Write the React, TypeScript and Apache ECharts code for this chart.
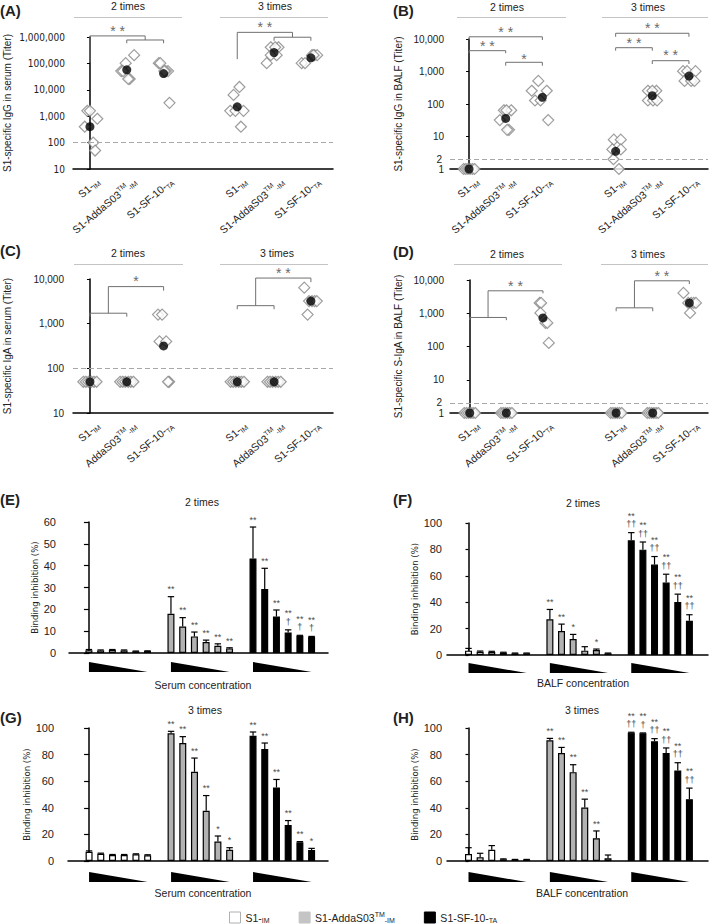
import React, { useEffect, useRef } from "react";
import * as echarts from "echarts";

const FONT = "'Liberation Sans', Arial, Helvetica, sans-serif";
const NARROW = "'Liberation Sans Narrow', 'Arial Narrow', 'DejaVu Sans Condensed', 'Liberation Sans', sans-serif";
const INK = "#222";
const GREY_LINE = "#707070";

// ---------------- Panels A–D : titers (log scale) ----------------
const GROUPS = ["S1-IM", "S1-AddaS03TM-IM", "S1-SF-10-TA"];
const SLOTS_AD = [0, 1, 2, 4, 5, 6]; // 2 times: 0,1,2  | 3 times: 4,5,6
const LABELS_AB = ["{n|S1-}{s|IM}", "{n|S1-AddaS03}{u|TM}{s|-IM}", "{n|S1-SF-10-}{s|TA}"];
const LABELS_CD = ["{n|S1-}{s|IM}", "{n|AddaS03}{u|TM}{s|-IM}", "{n|S1-SF-10-}{s|TA}"];

// (A) serum IgG
const A_VALUES = [
  [1600, 1600, 800, 400, 100, 50],
  [204800, 102400, 51200, 51200, 25600, 25600],
  [102400, 102400, 51200, 51200, 51200, 3200],
  [12800, 6400, 1600, 1600, 1600, 400],
  [409600, 409600, 409600, 204800, 204800, 102400],
  [204800, 204800, 204800, 204800, 102400, 102400],
];
const A_JITTER = [
  [-0.07, 0, 0.2, -0.14, 0.09, 0.14],
  [0.2, -0.03, -0.15, -0.1, 0.08, 0.04],
  [-0.13, -0.09, 0.12, 0.06, 0.02, 0.16],
  [0.06, -0.1, -0.19, -0.05, 0.17, 0.1],
  [-0.09, 0.12, 0.03, 0.07, -0.09, -0.2],
  [0.03, 0.1, 0.17, 0.07, -0.25, -0.16],
];
const A_MEANS = [400, 57000, 41000, 2260, 258000, 162000];

// (B) BALF IgG
const B_VALUES = [
  [1, 1, 1, 1, 1, 1],
  [64, 64, 64, 32, 16, 16],
  [512, 256, 256, 128, 128, 32],
  [8, 8, 4, 4, 2, 1],
  [256, 256, 256, 128, 128, 128],
  [1024, 1024, 1024, 512, 512, 512],
];
const B_JITTER = [
  [-0.15, -0.09, -0.03, 0.03, 0.09, 0.15],
  [-0.05, 0.15, 0.02, -0.16, 0.09, 0.04],
  [-0.11, -0.29, 0.12, -0.2, -0.05, 0.16],
  [-0.05, 0.14, -0.09, 0.14, -0.06, 0.09],
  [-0.12, 0.11, 0, -0.12, 0.02, 0.13],
  [-0.16, -0.05, 0.18, -0.12, 0.06, 0.15],
];
const B_MEANS = [1, 36, 160, 3.5, 181, 724];

// (C) serum IgA
const C_VALUES = [
  [50, 50, 50, 50, 50, 50],
  [50, 50, 50, 50, 50, 50],
  [1600, 1600, 400, 400, 50, 50],
  [50, 50, 50, 50, 50, 50],
  [50, 50, 50, 50, 50, 50],
  [6400, 3200, 3200, 3200, 3200, 1600],
];
const C_JITTER = [
  [-0.18, -0.11, -0.04, 0.04, 0.11, 0.18],
  [-0.18, -0.11, -0.04, 0.04, 0.11, 0.18],
  [-0.15, -0.04, -0.11, 0.07, 0.15, 0.12],
  [-0.18, -0.11, -0.04, 0.04, 0.11, 0.18],
  [-0.18, -0.11, -0.04, 0.04, 0.11, 0.18],
  [-0.18, -0.05, 0.03, 0.1, 0.16, -0.09],
];
const C_MEANS = [50, 50, 317, 50, 50, 3200];

// (D) BALF S-IgA
const D_VALUES = [
  [1, 1, 1, 1, 1, 1],
  [1, 1, 1, 1, 1, 1],
  [2048, 2048, 1024, 512, 512, 128],
  [1, 1, 1, 1, 1, 1],
  [1, 1, 1, 1, 1, 1],
  [4096, 2048, 2048, 2048, 2048, 1024],
];
const D_JITTER = [
  [-0.15, -0.09, -0.03, 0.03, 0.09, 0.15],
  [-0.15, -0.09, -0.03, 0.03, 0.09, 0.15],
  [-0.09, -0.05, -0.07, 0.07, 0.12, 0.16],
  [-0.15, -0.09, -0.03, 0.03, 0.09, 0.15],
  [-0.15, -0.09, -0.03, 0.03, 0.09, 0.15],
  [-0.16, -0.03, 0.05, 0.12, 0.18, 0.02],
];
const D_MEANS = [1, 1, 724, 1, 1, 2048];

// significance brackets: [x1, x2, y, left leg end, right leg end, label, label y]
const A_BRACKETS = [
  [0, 1.5, 1.1e6, 1.07e5, 7.7e5, "* *", 1.95e6],
  [1, 2, 7.7e5, 5.8e5, 5.8e5, "", 0],
  [4, 5.5, 1.5e6, 1.45e5, 9.8e5, "* *", 2.8e6],
  [5, 6, 9.8e5, 7.2e5, 7.2e5, "", 0],
];
const B_BRACKETS = [
  [0, 2, 1.17e4, 9300, 9300, "* *", 1.9e4],
  [0, 1, 4370, 3640, 3640, "* *", 6900],
  [1, 2, 1920, 1510, 1510, "*", 2750],
  [4, 6, 1.5e4, 1.17e4, 1.17e4, "* *", 2.5e4],
  [4, 5, 5400, 4370, 4370, "* *", 8900],
  [5, 6, 2150, 1700, 1700, "* *", 3640],
];
const C_BRACKETS = [
  [0, 1, 1714, 1435, 1435, "", 0],
  [0.5, 2, 6760, 1714, 5500, "*", 10000],
  [4, 5, 2530, 2100, 2100, "", 0],
  [4.5, 6, 1.05e4, 2530, 8500, "* *", 1.48e4],
];
const D_BRACKETS = [
  [0, 1, 747, 620, 620, "", 0],
  [0.5, 2, 4730, 747, 3980, "* *", 7500],
  [4, 5, 1455, 1150, 1150, "", 0],
  [4.5, 6, 9460, 1455, 7530, "* *", 1.47e4],
];

// ---------------- Panels E–H : binding inhibition (%) ----------------
const SLOTS_IM = [0, 1, 2, 3, 4, 5];
const SLOTS_ADDA = [7, 8, 9, 10, 11, 12];
const SLOTS_SF = [14, 15, 16, 17, 18, 19];

const E_IM = [1.3, 1.2, 1.4, 1.2, 0.8, 0.9];
const E_IM_SD = [0.3, 0.2, 0.2, 0.2, 0.1, 0.1];
const E_ADDA = [18, 12.1, 7.6, 5.0, 3.3, 2.1];
const E_ADDA_SD = [7.8, 4.1, 2.0, 0.9, 0.9, 0.3];
const E_SF = [43.3, 29.3, 16.7, 9.4, 7.9, 7.4];
const E_SF_SD = [14.4, 9.5, 3.0, 1.2, 0.2, 0.2];
const E_ADDA_SIG = ["**", "**", "**", "**", "**", "**"];
const E_SF_SIG = ["**", "**", "**", "**", "**", "**"];
const E_SF_DAG = ["", "", "", "†", "†", "†"];

const F_IM = [3.3, 2.5, 2.3, 1.8, 1.3, 1.3];
const F_IM_SD = [1.7, 0.5, 0.5, 0.3, 0.2, 0.2];
const F_ADDA = [27, 18.1, 12.1, 3.3, 3.8, 1.3];
const F_ADDA_SD = [7.5, 5.3, 3.5, 3.0, 0.7, 0.2];
const F_SF = [86.9, 79.8, 68.5, 54.9, 40.1, 25.9];
const F_SF_SD = [5.8, 5.8, 6.1, 6.3, 6.0, 4.6];
const F_ADDA_SIG = ["**", "**", "*", "", "*", ""];
const F_SF_SIG = ["**", "**", "**", "**", "**", "**"];
const F_SF_DAG = ["††", "††", "††", "††", "††", "††"];

const G_IM = [7.0, 5.5, 4.5, 4.5, 5.0, 4.3];
const G_IM_SD = [0.6, 0.4, 0.4, 0.4, 0.4, 0.4];
const G_ADDA = [96, 88.7, 67.1, 37.7, 14.6, 8.5];
const G_ADDA_SD = [1.5, 4.8, 10.3, 11.5, 4.2, 1.5];
const G_SF = [94.2, 84.2, 55.3, 27.1, 14.1, 8.3];
const G_SF_SD = [2.8, 4.5, 6.0, 3.3, 0.5, 1.2];
const G_ADDA_SIG = ["**", "**", "**", "**", "*", "*"];
const G_SF_SIG = ["**", "**", "**", "**", "**", "*"];
const G_SF_DAG = ["", "", "", "", "", ""];

const H_IM = [5.3, 2.8, 8.5, 1.3, 1.0, 1.0];
const H_IM_SD = [4.7, 3.0, 3.1, 0.3, 0.2, 0.2];
const H_ADDA = [90.7, 81.2, 66.8, 40.2, 17.1, 2.0];
const H_ADDA_SD = [1.5, 4.2, 5.6, 6.3, 5.5, 2.5];
const H_SF = [96.5, 96, 90, 81.2, 68.1, 46.5];
const H_SF_SD = [0.3, 0.3, 2.0, 3.8, 5.8, 8.3];
const H_ADDA_SIG = ["**", "**", "**", "**", "**", ""];
const H_SF_SIG = ["**", "**", "**", "**", "**", "**"];
const H_SF_DAG = ["††", "†", "††", "††", "††", "††"];

const NONE = ["", "", "", "", "", ""];

// ---------------- helpers ----------------
const LABEL_RICH = {
  n: { fontSize: 10.5, fontFamily: FONT, fill: INK, lineHeight: 13, verticalAlign: "middle" },
  s: { fontSize: 7, fontFamily: FONT, fill: INK, verticalAlign: "bottom" },
  u: { fontSize: 7, fontFamily: FONT, fill: INK, verticalAlign: "top" },
};

function titerSeries(g: number, values: number[][], jitter: number[][], means: number[],
  brackets: any[][], labels: string[], yBase: number, cutoff: number, cutoffLabel: string) {
  const pts: number[][] = [];
  values.forEach((grp, gi) => grp.forEach((v, k) => pts.push([SLOTS_AD[gi] + jitter[gi][k], v])));
  return [
    {
      type: "scatter", xAxisIndex: g, yAxisIndex: g, silent: true,
      symbol: "diamond", symbolSize: [11, 11], data: pts,
      itemStyle: { color: "#fff", borderColor: "#858585", borderWidth: 1.2 },
      markLine: {
        silent: true, symbol: ["none", "none"], animation: false,
        data: [{ yAxis: cutoff }],
        lineStyle: { type: [5, 3], color: "#a8a8a8", width: 1 },
        label: cutoffLabel
          ? { show: true, position: "start", formatter: cutoffLabel, color: INK, fontSize: 10, fontFamily: FONT, distance: 8 }
          : { show: false },
      },
    },
    {
      type: "scatter", xAxisIndex: g, yAxisIndex: g, silent: true, z: 4,
      symbol: "circle", symbolSize: 9,
      data: means.map((m, gi) => [SLOTS_AD[gi], m]),
      itemStyle: { color: "#000" },
    },
    {
      type: "custom", xAxisIndex: g, yAxisIndex: g, silent: true,
      encode: { x: [0, 1], y: [2, 3, 4] },
      data: brackets.map((b) => [b[0], b[1], b[2], b[3], b[4]]),
      renderItem: (params: any, api: any) => {
        const b = brackets[params.dataIndex];
        const pts2 = [api.coord([b[0], b[3]]), api.coord([b[0], b[2]]), api.coord([b[1], b[2]]), api.coord([b[1], b[4]])];
        const children: any[] = [
          { type: "polyline", shape: { points: pts2 }, style: { stroke: GREY_LINE, lineWidth: 1, fill: null } },
        ];
        if (b[5]) {
          const p = api.coord([(b[0] + b[1]) / 2, b[6]]);
          children.push({
            type: "text", x: p[0], y: p[1] + 2,
            style: { text: b[5], fontSize: 14, fontFamily: FONT, fill: "#6a6a6a", align: "center", verticalAlign: "middle" },
          });
        }
        return { type: "group", children };
      },
    },
    {
      type: "custom", xAxisIndex: g, yAxisIndex: g, silent: true,
      encode: { x: 0, y: 1 },
      data: SLOTS_AD.map((s) => [s, yBase]),
      renderItem: (params: any, api: any) => {
        const p = api.coord([api.value(0), api.value(1)]);
        return {
          type: "text", x: p[0] + 8, y: p[1] + 11, rotation: (40 * Math.PI) / 180,
          style: {
            text: labels[params.dataIndex % 3], align: "right", verticalAlign: "middle",
            fontSize: 10.5, fontFamily: FONT, fill: INK, rich: LABEL_RICH,
          },
        };
      },
    },
  ];
}

const BAR_FILLS = ["#ffffff", "#b2b2b2", "#000000"];

function barSeries(g: number, groups: { slots: number[]; vals: number[]; sds: number[]; sig: string[]; dag: string[] }[], triDrop: number[]) {
  const out: any[] = [];
  groups.forEach((grp, k) => {
    out.push({
      type: "bar", name: GROUPS[k], xAxisIndex: g, yAxisIndex: g, silent: true,
      barWidth: 7, barGap: "-100%",
      data: grp.vals.map((v, i) => [grp.slots[i], v]),
      itemStyle: { color: BAR_FILLS[k], borderColor: "#000", borderWidth: 1.2 },
    });
  });
  groups.forEach((grp) => {
    out.push({
      type: "custom", xAxisIndex: g, yAxisIndex: g, silent: true, z: 5,
      encode: { x: 0, y: [1, 2] },
      data: grp.vals.map((v, i) => [grp.slots[i], v, v + grp.sds[i]]),
      renderItem: (params: any, api: any) => {
        const i = params.dataIndex;
        const base = api.coord([api.value(0), api.value(1)]);
        const top = api.coord([api.value(0), api.value(2)]);
        const children: any[] = [
          { type: "line", shape: { x1: top[0], y1: base[1], x2: top[0], y2: top[1] }, style: { stroke: "#000", lineWidth: 1.2 } },
          { type: "line", shape: { x1: top[0] - 3.2, y1: top[1], x2: top[0] + 3.2, y2: top[1] }, style: { stroke: "#000", lineWidth: 1.2 } },
        ];
        const hasDag = !!grp.dag[i];
        if (grp.sig[i]) {
          children.push({
            type: "text", x: top[0], y: top[1] - (hasDag ? 4 : 3),
            style: {
              text: hasDag ? grp.sig[i] + "\n" + grp.dag[i] : grp.sig[i],
              fontSize: 9, lineHeight: 8.5, fontFamily: FONT, fill: "#4a4a4a",
              align: "center", verticalAlign: "bottom",
            },
          });
        }
        return { type: "group", children };
      },
    });
  });
  out.push({
    type: "custom", xAxisIndex: g, yAxisIndex: g, silent: true,
    encode: { x: [0, 1], y: 2 },
    data: groups.map((grp) => [grp.slots[0], grp.slots[grp.slots.length - 1], 0]),
    renderItem: (params: any, api: any) => {
      const a = api.coord([api.value(0), 0]);
      const b = api.coord([api.value(1), 0]);
      return {
        type: "polygon",
        shape: { points: [[a[0], a[1] + triDrop[0]], [a[0], a[1] + triDrop[1]], [b[0], b[1] + triDrop[1]]] },
        style: { fill: "#000" },
      };
    },
  });
  return out;
}

const fmtComma = (v: number) => Math.round(v).toLocaleString("en-US");

function build() {
  const grids = [
    { left: 73, top: 37, width: 260, height: 132 },
    { left: 450, top: 39, width: 258, height: 130 },
    { left: 73, top: 279, width: 260, height: 134 },
    { left: 450, top: 280, width: 258, height: 133 },
    { left: 69, top: 522, width: 259, height: 131 },
    { left: 447, top: 523, width: 261, height: 132 },
    { left: 68, top: 728, width: 260, height: 133 },
    { left: 447, top: 728, width: 261, height: 133 },
  ].map((g) => ({ ...g, outerBoundsMode: "none", containLabel: false }));

  const xRanges = [[-0.46, 6.6], [-0.52, 6.52], [-0.46, 6.6], [-0.54, 6.51], [-1.7, 20.4], [-1.85, 20.6], [-1.8, 20.4], [-1.85, 20.6]];
  const axisLine = { show: true, onZero: false, lineStyle: { color: "#000", width: 1.5 } };
  const xAxis = xRanges.map((r, i) => ({
    gridIndex: i, type: "value", min: r[0], max: r[1],
    axisLine, axisTick: { show: false }, axisLabel: { show: false }, splitLine: { show: false },
  }));

  const nameStyle = (fs: number, fam: string) => ({ fontSize: fs, fontFamily: fam, color: INK });
  const logY = (i: number, min: number, max: number, name: string, gap: number, margin: number, fam: string) => ({
    gridIndex: i, type: "log", logBase: 10, min, max,
    axisLine: { show: true, lineStyle: { color: "#000", width: 1.5 } },
    axisTick: { show: true, length: 3, lineStyle: { color: "#000" } },
    axisLabel: { margin, fontSize: 10, fontFamily: fam, color: INK, formatter: fmtComma },
    splitLine: { show: false },
    name, nameLocation: "middle", nameGap: gap, nameRotate: 90, nameTextStyle: nameStyle(10, FONT),
  });
  const linY = (i: number, max: number, interval: number, gap: number, margin: number, tick: number) => ({
    gridIndex: i, type: "value", min: 0, max, interval,
    axisLine: { show: true, lineStyle: { color: "#000", width: 1.5 } },
    axisTick: { show: true, length: tick, lineStyle: { color: "#000", width: 1.2 } },
    axisLabel: { margin, fontSize: 11, fontFamily: FONT, color: INK },
    splitLine: { show: false },
    name: "Binding inhibition (%)", nameLocation: "middle", nameGap: gap, nameRotate: 90,
    nameTextStyle: nameStyle(9.5, NARROW),
  });
  const yAxis = [
    logY(0, 10, 1e6, "S1-specific IgG in serum (Titer)", 61, 8, NARROW),
    logY(1, 1, 1e4, "S1-specific IgG in BALF (Titer)", 47, 6, FONT),
    logY(2, 10, 1e4, "S1-specific IgA in serum (Titer)", 61, 9, FONT),
    logY(3, 1, 1e4, "S1-specific S-IgA in BALF (Titer)", 47, 6, FONT),
    linY(4, 60, 10, 27, 13, 5),
    linY(5, 100, 20, 27, 5, 3),
    linY(6, 100, 20, 25, 14, 5),
    linY(7, 100, 20, 27, 5, 3),
  ];

  const series: any[] = [
    ...titerSeries(0, A_VALUES, A_JITTER, A_MEANS, A_BRACKETS, LABELS_AB, 10, 100, ""),
    ...titerSeries(1, B_VALUES, B_JITTER, B_MEANS, B_BRACKETS, LABELS_AB, 1, 2, "2"),
    ...titerSeries(2, C_VALUES, C_JITTER, C_MEANS, C_BRACKETS, LABELS_CD, 10, 100, ""),
    ...titerSeries(3, D_VALUES, D_JITTER, D_MEANS, D_BRACKETS, LABELS_CD, 1, 2, "2"),
    ...barSeries(4, [
      { slots: SLOTS_IM, vals: E_IM, sds: E_IM_SD, sig: NONE, dag: NONE },
      { slots: SLOTS_ADDA, vals: E_ADDA, sds: E_ADDA_SD, sig: E_ADDA_SIG, dag: NONE },
      { slots: SLOTS_SF, vals: E_SF, sds: E_SF_SD, sig: E_SF_SIG, dag: E_SF_DAG },
    ], [9, 19]),
    ...barSeries(5, [
      { slots: SLOTS_IM, vals: F_IM, sds: F_IM_SD, sig: NONE, dag: NONE },
      { slots: SLOTS_ADDA, vals: F_ADDA, sds: F_ADDA_SD, sig: F_ADDA_SIG, dag: NONE },
      { slots: SLOTS_SF, vals: F_SF, sds: F_SF_SD, sig: F_SF_SIG, dag: F_SF_DAG },
    ], [8, 18]),
    ...barSeries(6, [
      { slots: SLOTS_IM, vals: G_IM, sds: G_IM_SD, sig: NONE, dag: NONE },
      { slots: SLOTS_ADDA, vals: G_ADDA, sds: G_ADDA_SD, sig: G_ADDA_SIG, dag: NONE },
      { slots: SLOTS_SF, vals: G_SF, sds: G_SF_SD, sig: G_SF_SIG, dag: G_SF_DAG },
    ], [11, 21]),
    ...barSeries(7, [
      { slots: SLOTS_IM, vals: H_IM, sds: H_IM_SD, sig: NONE, dag: NONE },
      { slots: SLOTS_ADDA, vals: H_ADDA, sds: H_ADDA_SD, sig: H_ADDA_SIG, dag: NONE },
      { slots: SLOTS_SF, vals: H_SF, sds: H_SF_SD, sig: H_SF_SIG, dag: H_SF_DAG },
    ], [11, 21]),
  ];

  const txt = (text: string, x: number, y: number, size = 10.5, weight = "normal", align = "center") => ({
    type: "text", x, y, silent: true,
    style: { text, fontSize: size, fontWeight: weight, fontFamily: FONT, fill: INK, align, verticalAlign: "middle", textAlign: align, textVerticalAlign: "middle" },
  });
  const hline = (x1: number, x2: number, y: number) => ({
    type: "line", silent: true, shape: { x1, y1: y, x2, y2: y }, style: { stroke: "#c4c4c4", lineWidth: 1 },
  });

  const graphic = [
    txt("(A)", 0, 10, 15, "bold", "left"),
    txt("(B)", 393, 10, 15, "bold", "left"),
    txt("(C)", 0, 250, 15, "bold", "left"),
    txt("(D)", 393, 251, 15, "bold", "left"),
    txt("(E)", 0, 499, 15, "bold", "left"),
    txt("(F)", 393, 499, 15, "bold", "left"),
    txt("(G)", 0, 717, 15, "bold", "left"),
    txt("(H)", 393, 717, 15, "bold", "left"),
    txt("2 times", 128, 6), txt("3 times", 275, 6), hline(74, 182, 17.5), hline(220, 328, 17.5),
    txt("2 times", 507, 7), txt("3 times", 648, 7), hline(457, 566, 17.5), hline(602, 708, 17.5),
    txt("2 times", 128, 253), txt("3 times", 277, 253), hline(74, 183, 264.5), hline(220, 328, 264.5),
    txt("2 times", 507, 254), txt("3 times", 648, 254), hline(454, 562, 264.5), hline(601, 708, 264.5),
    txt("2 times", 202, 502), txt("2 times", 583, 503),
    txt("3 times", 205, 710), txt("3 times", 582, 710),
    txt("Serum concentration", 203, 685), txt("BALF concentration", 583, 683),
    txt("Serum concentration", 203, 893), txt("BALF concentration", 582, 893),
  ];

  const LEGEND_TEXT: Record<string, string> = {
    "S1-IM": "{n|S1-}{s|IM}",
    "S1-AddaS03TM-IM": "{n|S1-AddaS03}{u|TM}{s|-IM}",
    "S1-SF-10-TA": "{n|S1-SF-10-}{s|TA}",
  };

  return {
    animation: false,
    backgroundColor: "#fff",
    textStyle: { fontFamily: FONT },
    grid: grids,
    xAxis,
    yAxis,
    series,
    graphic,
    legend: {
      show: true, left: 229, top: 911, padding: 0, itemWidth: 11, itemHeight: 11, itemGap: 29,
      selectedMode: false, icon: "rect",
      data: [
        { name: GROUPS[0], itemStyle: { color: "#fff", borderColor: "#b0b0b0", borderWidth: 1 } },
        { name: GROUPS[1], itemStyle: { color: "#c4c4c4", borderColor: "#c4c4c4", borderWidth: 1 } },
        { name: GROUPS[2], itemStyle: { color: "#000", borderColor: "#000", borderWidth: 1 } },
      ],
      formatter: (name: string) => LEGEND_TEXT[name],
      textStyle: {
        fontSize: 10.5, fontFamily: FONT, color: INK,
        rich: {
          n: { fontSize: 10.5, fontFamily: FONT, color: INK, lineHeight: 13, verticalAlign: "middle" },
          s: { fontSize: 7, fontFamily: FONT, color: INK, verticalAlign: "bottom" },
          u: { fontSize: 7, fontFamily: FONT, color: INK, verticalAlign: "top" },
        },
      },
    },
  };
}

export default function App() {
  const ref = useRef<HTMLDivElement>(null);
  useEffect(() => {
    const chart = echarts.init(ref.current as HTMLDivElement, null, { renderer: "svg" });
    chart.setOption(build() as any);
    return () => chart.dispose();
  }, []);
  return (
    <div
      ref={ref}
      style={{ position: "absolute", left: 0, top: 0, width: 709, height: 924, background: "#fff" }}
    />
  );
}
